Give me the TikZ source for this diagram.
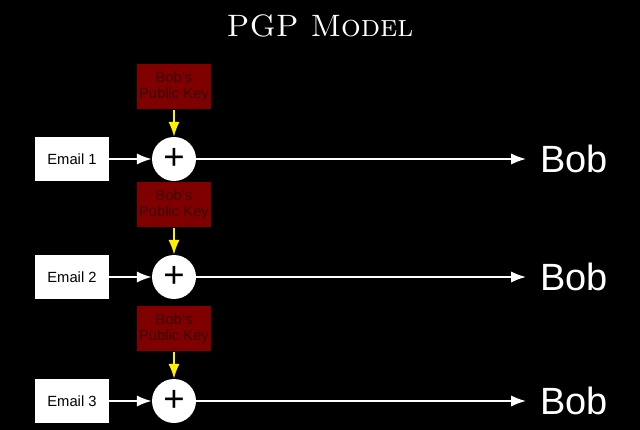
\documentclass[tikz,border=0pt]{standalone}
\usepackage{fontspec}
\setsansfont{Liberation Sans}
\definecolor{keyred}{RGB}{128, 0, 0}
\definecolor{keytext}{RGB}{60, 0, 0}
\definecolor{arrowyellow}{RGB}{255, 240, 0}
\usetikzlibrary{arrows.meta, positioning}

\begin{document}
\begin{tikzpicture}[
    emailbox/.style={draw=none, fill=white, minimum width=1.85cm, minimum height=1.1cm, font=\sffamily\fontsize{10.5}{12}\selectfont},
    keybox/.style={fill=keyred, text=keytext, minimum width=1.85cm, minimum height=1.125cm, align=center, inner sep=1pt, font=\sffamily\fontsize{10.5}{11.5}\selectfont},
    plusnode/.style={circle, fill=white, minimum size=1.1cm, inner sep=0pt, font=\sffamily\fontsize{26}{26}\selectfont},
    whitearrow/.style={draw=white, line width=1.4pt, -{Latex[length=10.5pt, width=8pt]}},
    yellowarrow/.style={draw=arrowyellow, line width=1.4pt, -{Latex[length=10.5pt, width=8pt]}}
  ]
  % Background
  \fill[black] (0, 0) rectangle (16, -10.75);
  \useasboundingbox (0, 0) rectangle (16, -10.75);

  % Title
  \node[text=white, font=\fontsize{22}{26}\selectfont\scshape] (title) at (8, -0.65) {PGP Model};

  % Three rows
  \foreach \i/\y in {1/-3.975, 2/-6.925, 3/-10.025} {
    \node[emailbox] (email\i) at (1.8, \y) {Email \i};
    \node[plusnode] (plus\i) at (4.35, \y) {+};
    \node[keybox, above=0.675cm of plus\i] (key\i) {Bob's\\Public Key};
    \node[anchor=west, inner sep=0pt, text=white, font=\sffamily\fontsize{27}{30}\selectfont] (bob\i) at (13.5, \y) {Bob};
    \draw[yellowarrow] (key\i) -- (plus\i);
    \draw[whitearrow] (email\i) -- (plus\i);
    \draw[whitearrow] (plus\i) -- ([xshift=-0.35cm]bob\i.west);
  }
\end{tikzpicture}
\end{document}
